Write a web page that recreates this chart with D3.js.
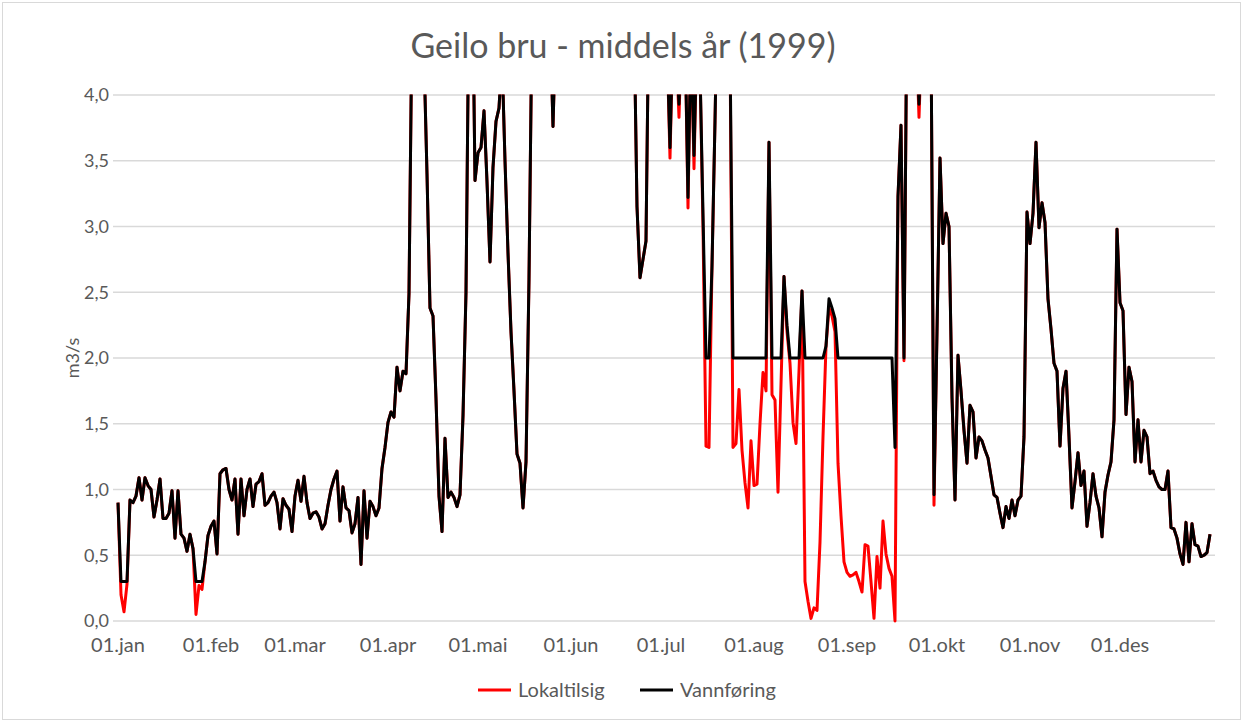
<!DOCTYPE html>
<html><head><meta charset="utf-8">
<script src="https://cdn.jsdelivr.net/npm/d3@7"></script>
<style>
body{margin:0;background:#fff;}
text{font-family:Lato,"Liberation Sans",Arial,sans-serif;fill:#595959;}
</style>
</head><body>
<svg id="chart" width="1243" height="722"></svg>
<script>
const chartTitle = "Geilo bru - middels år (1999)";
const yAxisTitle = "m3/s";
const yTickValues = [0, 0.5, 1, 1.5, 2, 2.5, 3, 3.5, 4];
const monthLabels = ["01.jan","01.feb","01.mar","01.apr","01.mai","01.jun","01.jul","01.aug","01.sep","01.okt","01.nov","01.des"];
const seriesNames = ["Lokaltilsig", "Vannføring"];

const lokaltilsig = [
0.90,0.20,0.07,0.28,0.92,0.90,0.95,1.09,0.92,1.09,
1.03,1.00,0.79,0.92,1.08,0.78,0.78,0.82,0.99,0.63,
0.99,0.66,0.63,0.53,0.66,0.55,0.05,0.27,0.24,0.45,
0.65,0.72,0.76,0.51,1.12,1.15,1.16,1.00,0.92,1.08,
0.66,1.08,0.80,1.00,1.08,0.87,1.04,1.06,1.12,0.88,
0.90,0.95,0.98,0.90,0.70,0.93,0.88,0.85,0.68,0.95,
1.07,0.91,1.10,0.90,0.78,0.82,0.83,0.79,0.70,0.74,
0.88,1.00,1.08,1.14,0.76,1.02,0.86,0.84,0.67,0.74,
0.94,0.43,0.99,0.63,0.91,0.87,0.80,0.86,1.16,1.32,
1.51,1.59,1.55,1.93,1.75,1.90,1.88,2.49,4.60,6.00,
6.50,5.50,4.30,3.40,2.38,2.32,1.69,0.95,0.68,1.39,
0.94,0.98,0.94,0.87,0.96,1.56,2.50,4.80,5.20,3.35,
3.56,3.60,3.88,3.34,2.73,3.45,3.80,3.90,4.30,3.50,
2.80,2.20,1.75,1.27,1.20,0.86,1.21,2.60,4.60,6.00,
7.00,6.50,5.50,5.00,4.60,3.76,4.60,5.50,6.50,7.50,
8.00,8.50,9.00,9.50,10.0,10.0,9.50,9.00,9.50,10.0,
9.50,9.00,8.50,8.00,7.50,7.00,6.50,6.00,5.50,5.00,
4.80,4.60,4.60,3.15,2.61,2.75,2.89,4.80,5.50,6.00,
5.50,5.00,4.60,4.40,3.52,4.50,4.40,3.83,4.60,4.50,
3.14,4.50,3.44,4.50,4.20,3.00,1.33,1.32,2.70,3.80,
5.00,6.00,5.50,5.00,4.40,1.32,1.35,1.76,1.30,1.05,
0.86,1.37,1.03,1.04,1.50,1.89,1.75,3.64,1.72,1.68,
0.98,1.80,2.62,2.20,1.96,1.51,1.35,1.90,2.51,0.30,
0.15,0.02,0.10,0.08,0.60,1.40,2.09,2.38,2.32,2.20,
1.20,0.80,0.45,0.37,0.34,0.35,0.37,0.30,0.22,0.58,
0.57,0.30,0.02,0.49,0.25,0.76,0.51,0.40,0.34,0.00,
3.23,3.77,1.98,4.80,5.50,5.00,4.50,3.83,4.50,5.00,
4.80,4.50,0.88,2.20,3.52,2.87,3.10,3.00,1.70,0.92,
2.02,1.75,1.45,1.20,1.64,1.59,1.24,1.40,1.37,1.30,
1.24,1.10,0.96,0.94,0.82,0.71,0.87,0.78,0.92,0.80,
0.92,0.95,1.40,3.11,2.87,3.10,3.64,2.99,3.18,3.03,
2.45,2.22,1.96,1.90,1.33,1.77,1.90,1.40,0.86,1.06,
1.28,1.03,1.14,0.72,0.90,1.12,0.95,0.86,0.64,0.98,
1.11,1.21,1.53,2.98,2.42,2.36,1.57,1.93,1.82,1.21,
1.53,1.21,1.45,1.40,1.12,1.14,1.07,1.02,1.00,1.00,
1.14,0.71,0.70,0.63,0.51,0.43,0.75,0.45,0.74,0.58,
0.57,0.49,0.50,0.52,0.66
];

const vannforing = [
0.90,0.30,0.30,0.30,0.92,0.90,0.95,1.09,0.92,1.09,
1.03,1.00,0.79,0.92,1.08,0.78,0.78,0.82,0.99,0.63,
0.99,0.66,0.63,0.53,0.66,0.55,0.30,0.30,0.30,0.45,
0.65,0.72,0.76,0.51,1.12,1.15,1.16,1.00,0.92,1.08,
0.66,1.08,0.80,1.00,1.08,0.87,1.04,1.06,1.12,0.88,
0.90,0.95,0.98,0.90,0.70,0.93,0.88,0.85,0.68,0.95,
1.07,0.91,1.10,0.90,0.78,0.82,0.83,0.79,0.70,0.74,
0.88,1.00,1.08,1.14,0.76,1.02,0.86,0.84,0.67,0.74,
0.94,0.43,0.99,0.63,0.91,0.87,0.80,0.86,1.16,1.32,
1.51,1.59,1.55,1.93,1.75,1.90,1.88,2.49,4.60,6.00,
6.50,5.50,4.30,3.40,2.38,2.32,1.69,0.95,0.68,1.39,
0.94,0.98,0.94,0.87,0.96,1.56,2.50,4.80,5.20,3.35,
3.56,3.60,3.88,3.34,2.73,3.45,3.80,3.90,4.30,3.50,
2.80,2.20,1.75,1.27,1.20,0.86,1.21,2.60,4.60,6.00,
7.00,6.50,5.50,5.00,4.60,3.76,4.60,5.50,6.50,7.50,
8.00,8.50,9.00,9.50,10.0,10.0,9.50,9.00,9.50,10.0,
9.50,9.00,8.50,8.00,7.50,7.00,6.50,6.00,5.50,5.00,
4.80,4.60,4.60,3.15,2.61,2.75,2.89,4.80,5.50,6.00,
5.50,5.00,4.60,4.40,3.60,4.50,4.40,3.93,4.60,4.50,
3.22,4.50,3.54,4.50,4.20,3.10,2.00,2.00,2.70,3.80,
5.00,6.00,5.50,5.00,4.40,2.00,2.00,2.00,2.00,2.00,
2.00,2.00,2.00,2.00,2.00,2.00,2.00,3.64,2.00,2.00,
2.00,2.00,2.62,2.25,2.00,2.00,2.00,2.00,2.51,2.00,
2.00,2.00,2.00,2.00,2.00,2.00,2.09,2.45,2.38,2.30,
2.00,2.00,2.00,2.00,2.00,2.00,2.00,2.00,2.00,2.00,
2.00,2.00,2.00,2.00,2.00,2.00,2.00,2.00,2.00,1.32,
3.23,3.77,2.00,4.80,5.50,5.00,4.50,3.93,4.50,5.00,
4.80,4.50,0.96,2.20,3.52,2.87,3.10,3.00,1.70,0.92,
2.02,1.75,1.45,1.20,1.64,1.59,1.24,1.40,1.37,1.30,
1.24,1.10,0.96,0.94,0.82,0.71,0.87,0.78,0.92,0.80,
0.92,0.95,1.40,3.11,2.87,3.10,3.64,2.99,3.18,3.03,
2.45,2.22,1.96,1.90,1.33,1.77,1.90,1.40,0.86,1.06,
1.28,1.03,1.14,0.72,0.90,1.12,0.95,0.86,0.64,0.98,
1.11,1.21,1.53,2.98,2.42,2.36,1.57,1.93,1.82,1.21,
1.53,1.21,1.45,1.40,1.12,1.14,1.07,1.02,1.00,1.00,
1.14,0.71,0.70,0.63,0.51,0.43,0.75,0.45,0.74,0.58,
0.57,0.49,0.50,0.52,0.66
];

const seriesColors = ["#ff0000", "#000000"];

const svg = d3.select("#chart");
const W = 1243, H = 722;
const plot = {left: 118, right: 1210, top: 95, bottom: 621};

svg.append("rect").attr("x", 2.5).attr("y", 2.5).attr("width", W - 5).attr("height", H - 5)
  .attr("fill", "#fff").attr("stroke", "#d9d9d9").attr("stroke-width", 1);

const dates = d3.timeDay.range(new Date(1999, 0, 1), new Date(2000, 0, 1));
const x = d3.scaleTime().domain([dates[0], dates[dates.length - 1]]).range([plot.left, plot.right]);
const y = d3.scaleLinear().domain([0, 4]).range([plot.bottom, plot.top]);

// gridlines
svg.append("g").selectAll("line").data(yTickValues).join("line")
  .attr("x1", 113).attr("x2", 1215)
  .attr("y1", d => y(d)).attr("y2", d => y(d))
  .attr("stroke", "#d9d9d9").attr("stroke-width", 1.3);

// y tick labels
const fmt = v => d3.format(".1f")(v).replace(".", ",");
svg.append("g").selectAll("text").data(yTickValues).join("text")
  .attr("x", 109).attr("y", d => y(d)).attr("dy", "0.35em")
  .attr("text-anchor", "end").attr("font-size", 18).text(fmt);

// x tick labels
const monthStarts = d3.timeMonth.range(new Date(1999, 0, 1), new Date(2000, 0, 1));
svg.append("g").selectAll("text").data(monthStarts).join("text")
  .attr("x", d => x(d)).attr("y", 652)
  .attr("text-anchor", "middle").attr("font-size", 20)
  .text((d, i) => monthLabels[i]);

// title
svg.append("text").attr("x", 623).attr("y", 58).attr("text-anchor", "middle")
  .attr("font-size", 34).text(chartTitle);

// y axis title
svg.append("text").attr("transform", "translate(79,358) rotate(-90)")
  .attr("text-anchor", "middle").attr("font-size", 18).text(yAxisTitle);

// clip
svg.append("clipPath").attr("id", "clip").append("rect")
  .attr("x", 100).attr("y", plot.top - 0.5).attr("width", 1130).attr("height", plot.bottom - plot.top + 10);

const line = d3.line().x((d, i) => x(dates[i])).y(d => y(d));
const g = svg.append("g").attr("clip-path", "url(#clip)");
[lokaltilsig, vannforing].forEach((s, k) => {
  g.append("path").datum(s).attr("d", line)
    .attr("fill", "none").attr("stroke", seriesColors[k])
    .attr("stroke-width", 3).attr("stroke-linejoin", "round");
});

// legend
const legendX = [478, 640];
seriesNames.forEach((n, k) => {
  svg.append("line").attr("x1", legendX[k]).attr("x2", legendX[k] + 33)
    .attr("y1", 690).attr("y2", 690).attr("stroke", seriesColors[k]).attr("stroke-width", 3);
  svg.append("text").attr("x", legendX[k] + 40).attr("y", 690).attr("dy", "0.35em")
    .attr("font-size", 20).text(n);
});
</script>
</body></html>
